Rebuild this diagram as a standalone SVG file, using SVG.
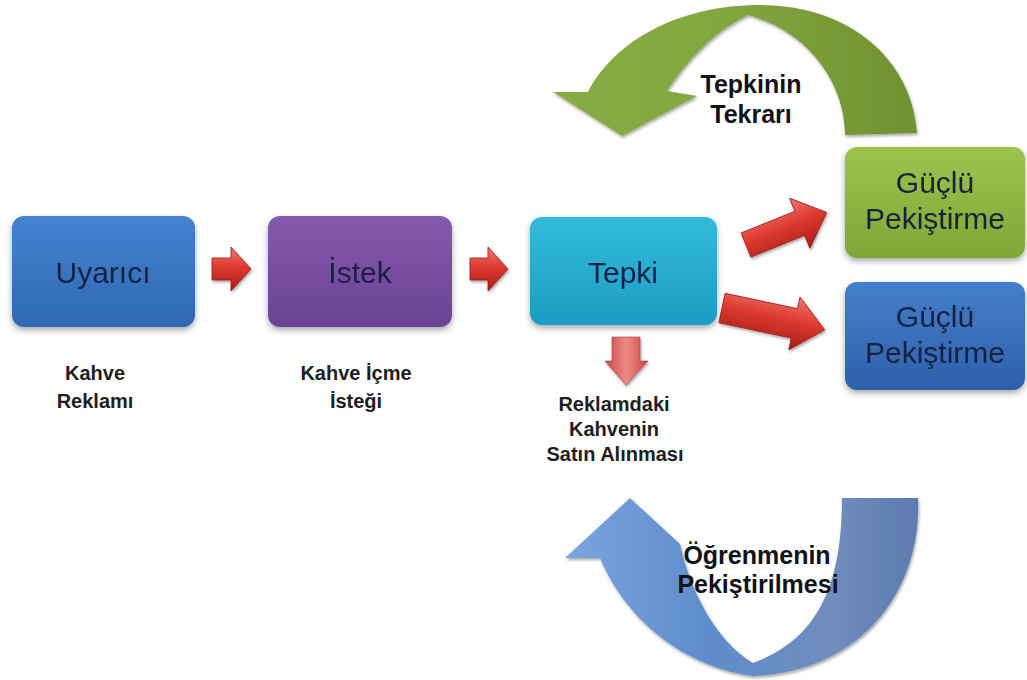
<svg xmlns="http://www.w3.org/2000/svg" width="1027" height="680" viewBox="0 0 1027 680">
  <defs>
    <style>
      .box-text { font-family: "Liberation Sans", Arial, sans-serif; font-size: 30px; fill: #18213f; text-anchor: middle; }
      .label { font-family: "Liberation Sans", Arial, sans-serif; font-size: 20px; font-weight: bold; fill: #1e1e1e; text-anchor: middle; }
      .loop-label { font-family: "Liberation Sans", Arial, sans-serif; font-size: 25px; font-weight: bold; fill: #111118; text-anchor: middle; }
      .red { fill: url(#redGrad); stroke: #9e1a16; stroke-width: 0.8; }
    </style>
    <filter id="shadow" x="-10%" y="-10%" width="125%" height="135%">
      <feDropShadow dx="0" dy="3" stdDeviation="3" flood-color="#000" flood-opacity="0.35"/>
    </filter>
    <filter id="arrowShadow" x="-10%" y="-10%" width="125%" height="130%">
      <feDropShadow dx="1" dy="2" stdDeviation="1.5" flood-color="#000" flood-opacity="0.35"/>
    </filter>
    <linearGradient id="gBlue" x1="0" y1="0" x2="0" y2="1">
      <stop offset="0" stop-color="#4383d0"/>
      <stop offset="1" stop-color="#2f68b2"/>
    </linearGradient>
    <linearGradient id="gPurple" x1="0" y1="0" x2="0" y2="1">
      <stop offset="0" stop-color="#8559ae"/>
      <stop offset="1" stop-color="#6b4296"/>
    </linearGradient>
    <linearGradient id="gCyan" x1="0" y1="0" x2="0" y2="1">
      <stop offset="0" stop-color="#33bbdc"/>
      <stop offset="1" stop-color="#1c9cc2"/>
    </linearGradient>
    <linearGradient id="gGreen" x1="0" y1="0" x2="0" y2="1">
      <stop offset="0" stop-color="#9cc44c"/>
      <stop offset="1" stop-color="#7fa636"/>
    </linearGradient>
    <linearGradient id="gBlue2" x1="0" y1="0" x2="0" y2="1">
      <stop offset="0" stop-color="#447fcc"/>
      <stop offset="1" stop-color="#2d60ab"/>
    </linearGradient>
    <linearGradient id="redGrad" x1="0" y1="0" x2="0" y2="1">
      <stop offset="0" stop-color="#f07a70"/>
      <stop offset="0.45" stop-color="#dd3a30"/>
      <stop offset="1" stop-color="#a81d18"/>
    </linearGradient>
    <linearGradient id="pinkGrad" x1="0" y1="0" x2="1" y2="0">
      <stop offset="0" stop-color="#c84848"/>
      <stop offset="0.5" stop-color="#ee8a84"/>
      <stop offset="1" stop-color="#c84444"/>
    </linearGradient>
    <linearGradient id="loopGreen" gradientUnits="userSpaceOnUse" x1="555" y1="0" x2="920" y2="0">
      <stop offset="0" stop-color="#88ad45"/>
      <stop offset="0.45" stop-color="#82a740"/>
      <stop offset="1" stop-color="#6f9131"/>
    </linearGradient>
    <linearGradient id="loopBlue" gradientUnits="userSpaceOnUse" x1="565" y1="0" x2="920" y2="0">
      <stop offset="0" stop-color="#7aa5de"/>
      <stop offset="0.4" stop-color="#5f8ccc"/>
      <stop offset="0.75" stop-color="#6f8dbd"/>
      <stop offset="1" stop-color="#5c7bae"/>
    </linearGradient>
  </defs>

  <rect width="1027" height="680" fill="#ffffff"/>

  <!-- curved loop arrows -->
  <g id="loop-repeat">
    <path filter="url(#arrowShadow)" fill="url(#loopGreen)"
          d="M 845,135 C 845,85 810,32 748,15 C 712,33 688,60 667,91 L 697,96 L 622,136 L 553,92 L 588,92 C 615,40 680,5 760,5 C 850,5 912,60 917,133 Z"/>
    <text class="loop-label" x="751" y="93">Tepkinin</text>
    <text class="loop-label" x="751" y="123">Tekrarı</text>
  </g>

  <g id="loop-reinforce">
    <path filter="url(#arrowShadow)" fill="url(#loopBlue)"
          d="M 842,498 L 918,498 C 922,592 860,672 753,676 C 690,668 628,625 600,558 L 565,558 L 630,498 L 680,544 C 690,590 715,640 753,663 C 815,640 842,590 842,498 Z"/>
    <text class="loop-label" x="757" y="564">Öğrenmenin</text>
    <text class="loop-label" x="758" y="593">Pekiştirilmesi</text>
  </g>

  <!-- process boxes -->
  <g id="node-uyarici" filter="url(#shadow)">
    <rect x="12" y="216" width="183" height="111" rx="12" fill="url(#gBlue)"/>
    <text class="box-text" x="103" y="283">Uyarıcı</text>
  </g>
  <g id="node-istek" filter="url(#shadow)">
    <rect x="268" y="216" width="184" height="111" rx="12" fill="url(#gPurple)"/>
    <text class="box-text" x="360" y="283">İstek</text>
  </g>
  <g id="node-tepki" filter="url(#shadow)">
    <rect x="530" y="217" width="187" height="108" rx="12" fill="url(#gCyan)"/>
    <text class="box-text" x="623" y="283">Tepki</text>
  </g>
  <g id="node-guclu-1" filter="url(#shadow)">
    <rect x="845" y="147" width="180" height="111" rx="12" fill="url(#gGreen)"/>
    <text class="box-text" x="935" y="193">Güçlü</text>
    <text class="box-text" x="935" y="229">Pekiştirme</text>
  </g>
  <g id="node-guclu-2" filter="url(#shadow)">
    <rect x="845" y="282" width="180" height="108" rx="12" fill="url(#gBlue2)"/>
    <text class="box-text" x="935" y="327">Güçlü</text>
    <text class="box-text" x="935" y="363">Pekiştirme</text>
  </g>

  <!-- captions -->
  <g id="caption-uyarici">
    <text class="label" x="95" y="380">Kahve</text>
    <text class="label" x="95" y="408">Reklamı</text>
  </g>
  <g id="caption-istek">
    <text class="label" x="356" y="380">Kahve İçme</text>
    <text class="label" x="356" y="408">İsteği</text>
  </g>
  <g id="caption-tepki">
    <text class="label" x="614" y="411">Reklamdaki</text>
    <text class="label" x="614" y="436">Kahvenin</text>
    <text class="label" x="615" y="461">Satın Alınması</text>
  </g>

  <!-- connectors: block arrows drawn pointing right from the tail centre -->
  <g id="connectors" filter="url(#arrowShadow)">
    <path class="red" transform="translate(212,269)" d="M 0,-11 L 19,-11 L 19,-22 L 39,0 L 19,22 L 19,11 L 0,11 Z"/>
    <path class="red" transform="translate(470,269)" d="M 0,-11 L 18,-11 L 18,-22 L 38,0 L 18,22 L 18,11 L 0,11 Z"/>
    <path class="red" transform="translate(746,245) rotate(-22)" d="M 0,-13 L 58,-13 L 58,-27 L 87,0 L 58,27 L 58,13 L 0,13 Z"/>
    <path class="red" transform="translate(722,308) rotate(12)" d="M 0,-15 L 74,-15 L 74,-27 L 105,0 L 74,27 L 74,15 L 0,15 Z"/>
    <path fill="url(#pinkGrad)" stroke="#b03a3a" stroke-width="0.6" d="M 612,337 L 640,337 L 640,361 L 648,361 L 626,385 L 605,361 L 612,361 Z"/>
  </g>
</svg>
